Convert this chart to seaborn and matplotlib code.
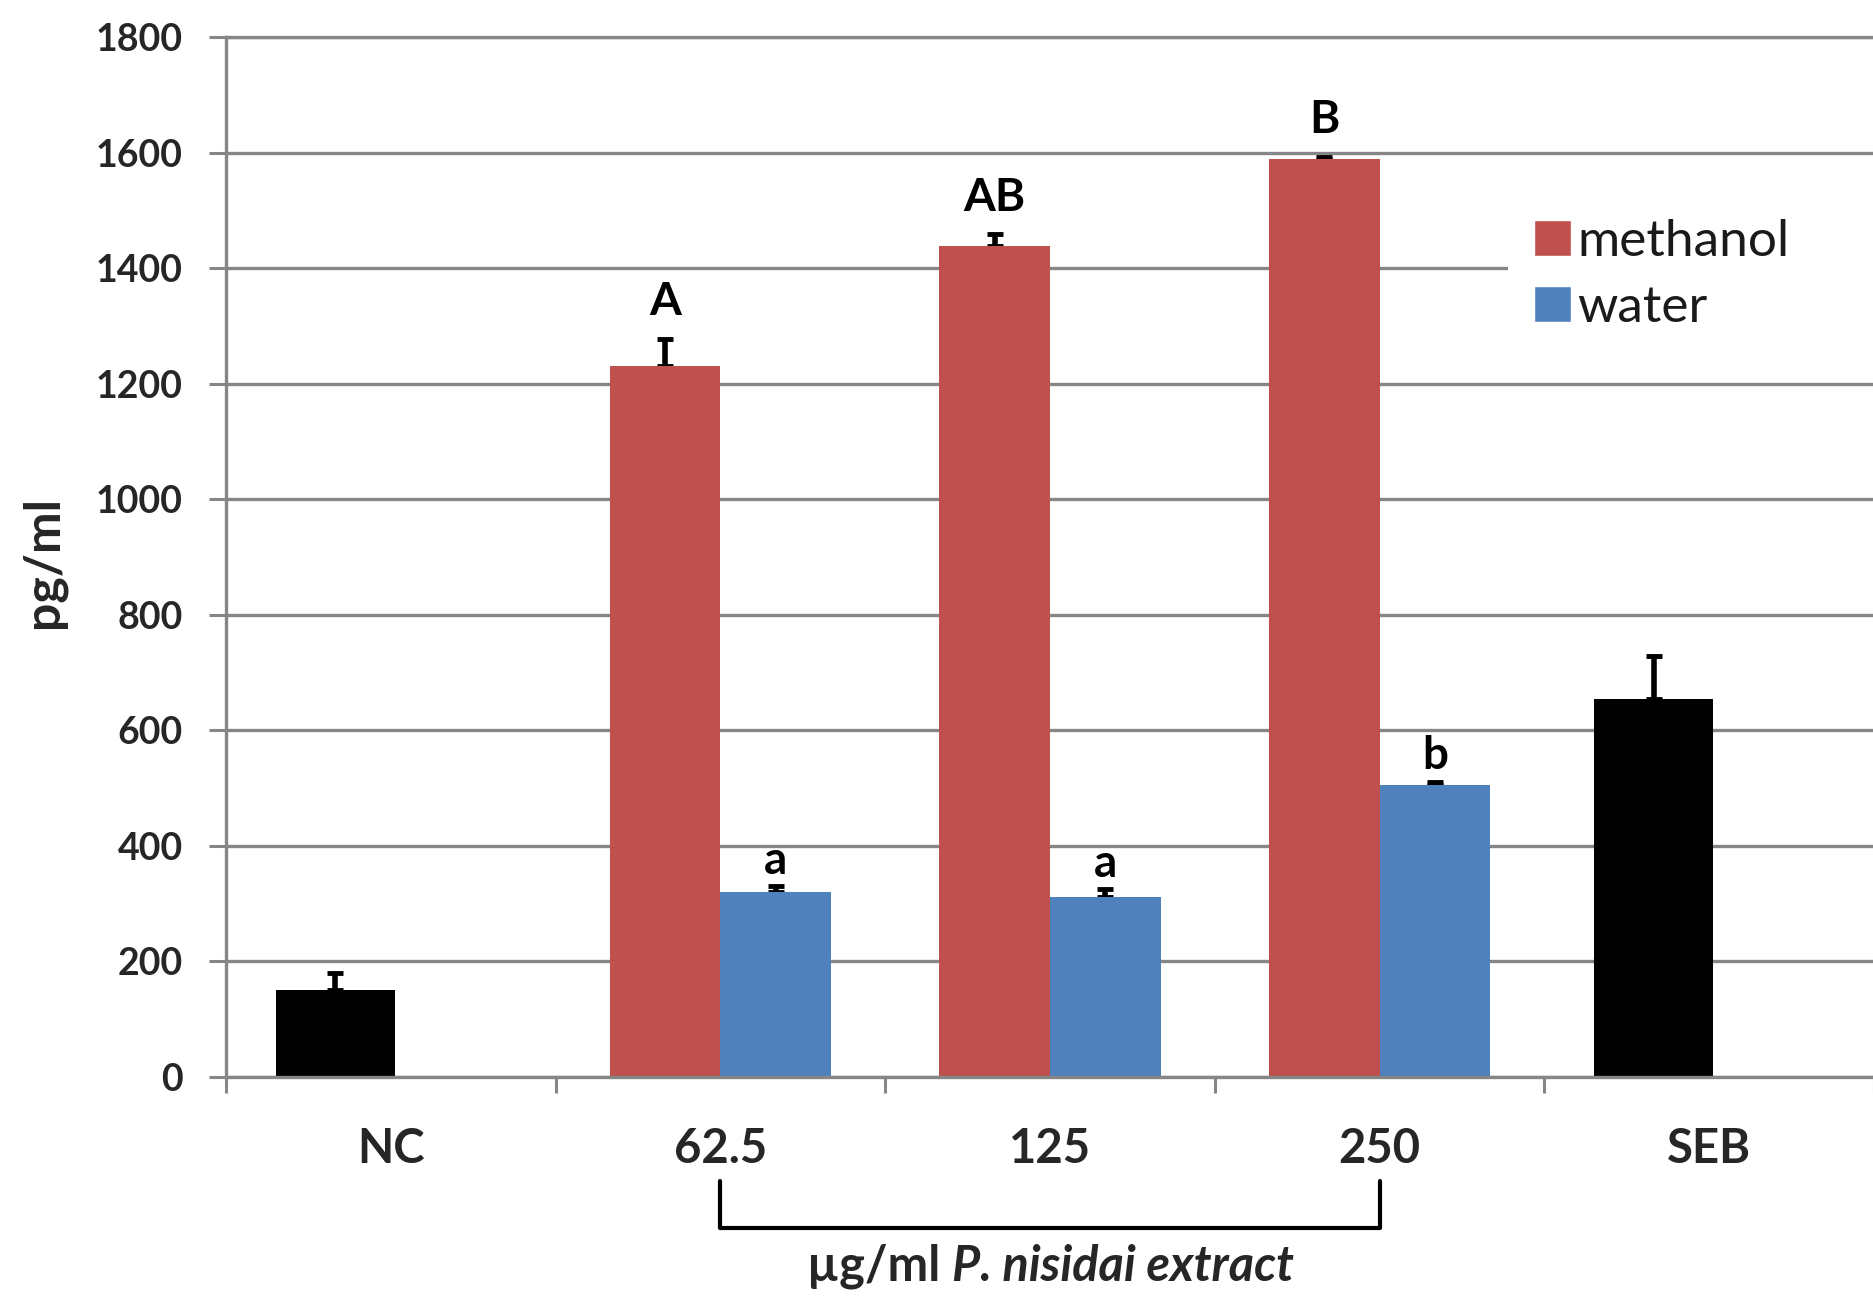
import matplotlib
matplotlib.use("Agg")
import matplotlib.pyplot as plt
import matplotlib.transforms as mtransforms
from matplotlib.patches import Patch
from matplotlib.ticker import FixedLocator
import pandas as pd
import seaborn as sns

# values (pg/ml)
groups = ["NC", "62.5", "125", "250", "SEB"]

control_groups = ["NC", "SEB"]
control_values = [150, 654]
control_errors = [30, 74]

dose_groups = ["62.5", "125", "250"]
methanol_values = [1231, 1438, 1588]
methanol_errors = [47, 21, 5]
methanol_letters = ["A", "AB", "B"]
water_values = [320, 311, 505]
water_errors = [10, 14, 6]
water_letters = ["a", "a", "b"]

y_ticks = [0, 200, 400, 600, 800, 1000, 1200, 1400, 1600, 1800]

df = pd.DataFrame({
    "group": control_groups + dose_groups + dose_groups,
    "series": ["control"] * 2 + ["methanol"] * 3 + ["water"] * 3,
    "value": control_values + methanol_values + water_values,
    "err": control_errors + methanol_errors + water_errors,
    "letter": ["", ""] + methanol_letters + water_letters,
})
# controls sit in the first slot of each category pair
df["slot"] = df["series"].replace({"control": "methanol"})

red = "#C0504D"
blue = "#4F81BD"
grid_gray = "#868686"

sns.set_style("white")
plt.rcParams["font.family"] = ["Lato", "DejaVu Sans"]

fig = plt.figure(figsize=(18.74, 13.02), dpi=100)
ax = fig.add_axes([0.1206, 0.1730, 0.8794, 0.7986])

sns.barplot(data=df, x="group", y="value", hue="slot", order=groups,
            hue_order=["methanol", "water"],
            palette={"methanol": red, "water": blue},
            width=0.672, errorbar=None, saturation=1, linewidth=0,
            legend=False, ax=ax)

letter_pad = {"methanol": 11, "water": 3}
for level, container in zip(["methanol", "water"], ax.containers):
    for bar in container:
        xc = bar.get_x() + bar.get_width() / 2
        cat = groups[int(round(xc))]
        row = df[(df["group"] == cat) & (df["slot"] == level)].iloc[0]
        if row["series"] == "control":
            bar.set_facecolor("black")
            bar.set_x(bar.get_x() - 0.012)
            bar.set_width(bar.get_width() + 0.024)
        # drawn under the bar so only the upper half shows
        ax.errorbar(xc, row["value"], yerr=[[0], [row["err"]]], fmt="none",
                    ecolor="black", elinewidth=4, capsize=6, capthick=3.5,
                    zorder=0.9)
        if row["letter"]:
            ax.annotate(row["letter"], (xc, row["value"] + row["err"]),
                        xytext=(0, letter_pad[level]), textcoords="offset points",
                        ha="center", va="bottom", fontsize=33,
                        fontweight="bold", color="black", zorder=4)

ax.set_ylim(0, 1800)
ax.set_xlim(-0.5, len(groups) - 0.5)
ax.set_yticks(y_ticks)
ax.yaxis.grid(True, color=grid_gray, linewidth=2.4, zorder=0.5)
ax.set_axisbelow(True)

for side in ["top", "bottom", "left"]:
    ax.spines[side].set_color(grid_gray)
    ax.spines[side].set_linewidth(2.4)
ax.spines["right"].set_visible(False)

ax.tick_params(axis="y", which="major", left=True, length=12, width=2.2,
               color=grid_gray, pad=19, labelsize=27)
ax.tick_params(axis="x", which="major", bottom=True, length=0, pad=36,
               labelsize=34)
ax.xaxis.set_minor_locator(FixedLocator([i - 0.5 for i in range(len(groups) + 1)]))
ax.tick_params(axis="x", which="minor", bottom=True, length=11.5, width=2.2,
               color=grid_gray)
for lab in ax.get_xticklabels() + ax.get_yticklabels():
    lab.set_fontweight("bold")

ax.set_xlabel("")
ax.set_ylabel("pg/ml", fontsize=36, fontweight="bold")
ax.yaxis.set_label_coords(-0.097, 0.495)

handles = [Patch(facecolor=red, label="methanol"),
           Patch(facecolor=blue, label="water")]
leg = ax.legend(handles=handles, loc="center left",
                bbox_to_anchor=(0.778, 0.6865, 0.24, 0.17), mode="expand",
                frameon=True, facecolor="white", edgecolor="none", framealpha=1,
                fancybox=False, fontsize=37, handlelength=0.73, handleheight=0.7,
                handletextpad=0.12, labelspacing=0.39, borderpad=0.5,
                borderaxespad=0)
for t in leg.get_texts():
    t.set_color("#1a1a1a")

# bracket under the extract doses
blend = mtransforms.blended_transform_factory(ax.transData, ax.transAxes)
x0, x1 = groups.index("62.5"), groups.index("250")
ax.plot([x0, x0, x1, x1], [-0.1003, -0.1455, -0.1455, -0.1003],
        transform=blend, clip_on=False, color="black", linewidth=3)

# two-part label, centred under the middle dose
t1 = ax.text(0, -0.1955, "µg/ml ", transform=blend, ha="left", va="baseline",
             fontsize=35, fontweight="bold")
t2 = ax.annotate("P. nisidai extract", xy=(1, 0), xycoords=t1, ha="left",
                 va="bottom", fontsize=35, fontweight="bold", fontstyle="italic")
fig.canvas.draw()
renderer = fig.canvas.get_renderer()
total = t1.get_window_extent(renderer).width + t2.get_window_extent(renderer).width
cx = ax.transData.transform((groups.index("125"), 0))[0]
x_left = ax.transData.inverted().transform((cx - total / 2, 0))[0]
t1.set_x(x_left)

fig.savefig("out.png", dpi=100)
